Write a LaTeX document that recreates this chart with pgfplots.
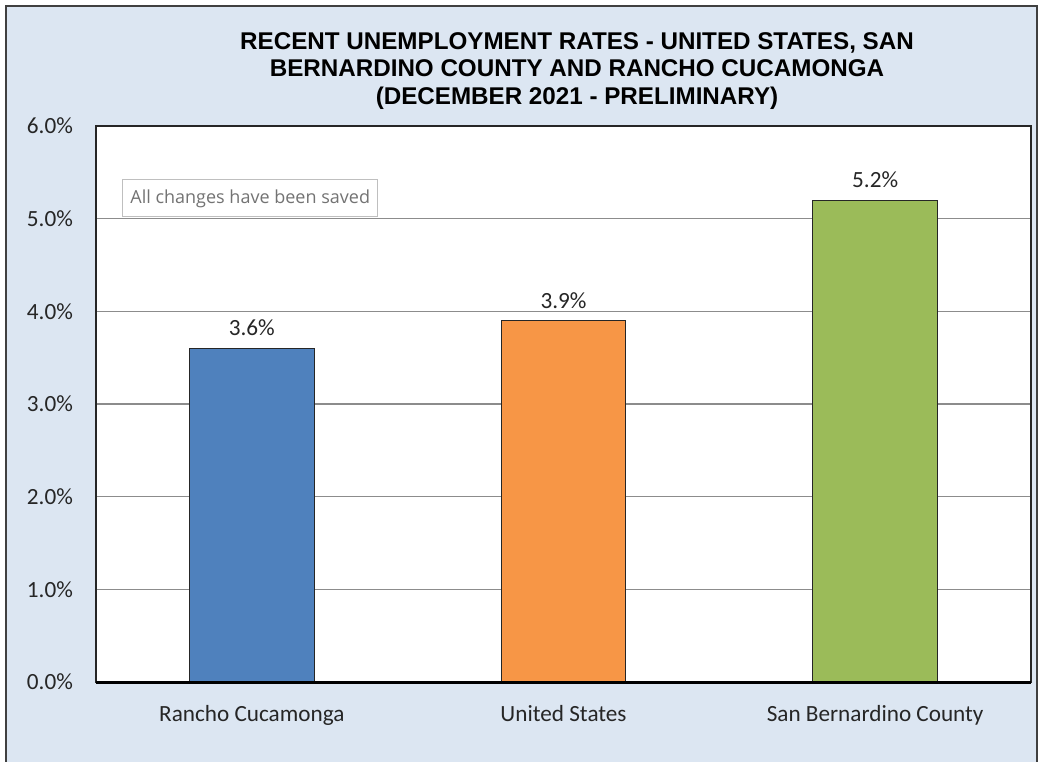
\documentclass[border=0pt]{standalone}
\usepackage{pgfplots}
\pgfplotsset{compat=1.18}
\usepackage{fontspec}
\setmainfont{Carlito}
\newfontfamily\titlefont{Liberation Sans}
\newfontfamily\tipfont{Open Sans}
\definecolor{bgblue}{HTML}{DCE6F2}
\definecolor{barblue}{HTML}{4F81BD}
\definecolor{barorange}{HTML}{F79646}
\definecolor{bargreen}{HTML}{9BBB59}
\definecolor{txt}{HTML}{262626}
\begin{document}
\begin{tikzpicture}
\useasboundingbox (0,0) rectangle (519.5pt,380.5pt);
\fill[white] (0,0) rectangle (519.5pt,380.5pt);
\draw[fill=bgblue, draw=black!75, line width=1pt] (3pt,-10pt) rectangle (518.5pt,377.3pt);
\node[font=\titlefont\bfseries\fontsize{12.1}{13.9}\selectfont, align=center, text=black] at (288.5pt,345pt)
  {RECENT UNEMPLOYMENT RATES - UNITED STATES, SAN\\BERNARDINO COUNTY AND RANCHO CUCAMONGA\\(DECEMBER 2021 - PRELIMINARY)};
\begin{axis}[
  at={(48pt,39.5pt)}, anchor=south west,
  width=467.5pt, height=278pt, scale only axis,
  xmin=-0.5, xmax=2.5, ymin=0, ymax=6,
  axis background/.style={fill=white},
  xtick={0,1,2},
  xticklabels={Rancho Cucamonga,United States,San Bernardino County},
  ytick={0,1,2,3,4,5,6},
  yticklabels={0.0\%,1.0\%,2.0\%,3.0\%,4.0\%,5.0\%,6.0\%},
  major tick length=0pt,
  ymajorgrids, grid style={draw=black!45, line width=0.6pt},
  axis line style={draw=black!85, line width=0.9pt},
  tick label style={font=\fontsize{11.6}{13}\selectfont, text=txt},
  yticklabel style={xshift=-8pt},
  xticklabel style={yshift=-8pt},
  ybar, bar width=0.4, bar shift=0pt,
  nodes near coords={\pgfmathprintnumber[fixed,fixed zerofill,precision=1,assume math mode=true]{\pgfplotspointmeta}\%},
  every node near coord/.append style={font=\fontsize{11.6}{13}\selectfont, text=txt, yshift=2.5pt},
  clip=false,
]
\addplot[fill=barblue, draw=black!85, line width=0.6pt] coordinates {(0,3.6)};
\addplot[fill=barorange, draw=black!85, line width=0.6pt] coordinates {(1,3.9)};
\addplot[fill=bargreen, draw=black!85, line width=0.6pt] coordinates {(2,5.2)};
\draw[black, line width=1.5pt] (rel axis cs:0,0) -- (rel axis cs:1,0);
\end{axis}
\draw[draw=black!25, fill=white, line width=0.5pt] (61.3pt,272pt) rectangle (188.8pt,290.5pt);
\node[font=\tipfont\fontsize{9}{10}\selectfont, text=black!55, anchor=west, inner sep=0pt] at (65pt,281pt) {All changes have been saved};
\end{tikzpicture}
\end{document}
